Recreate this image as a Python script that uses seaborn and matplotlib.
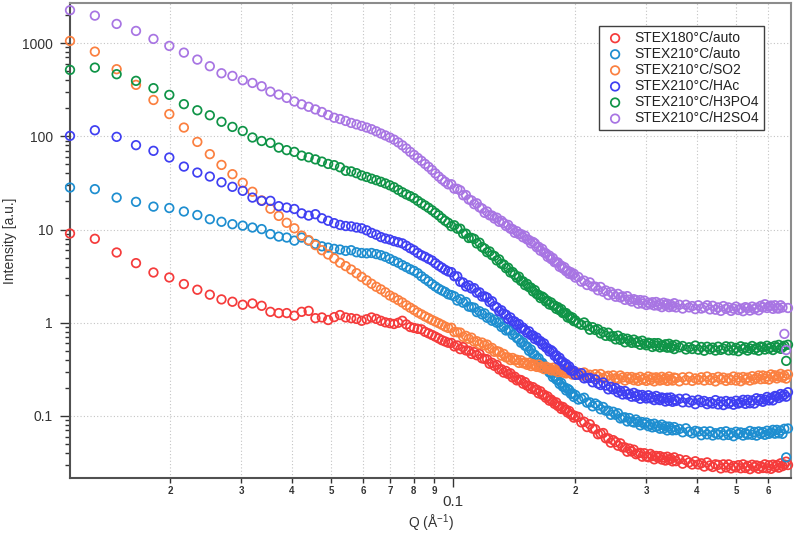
import numpy as np
import seaborn as sns
import matplotlib.pyplot as plt
from matplotlib.ticker import LogLocator, FuncFormatter, NullFormatter

sns.set_style('ticks')
plt.rcParams['font.family'] = ['Liberation Sans', 'DejaVu Sans']
plt.rcParams['mathtext.fontset'] = 'custom'
plt.rcParams['mathtext.rm'] = 'Liberation Sans'
plt.rcParams['mathtext.default'] = 'regular'

# scattering vector Q (1/A), same grid for every sample
q = [0.01133, 0.01305, 0.01477, 0.01649, 0.01821, 0.01993, 0.02165, 0.02337, 0.02509, 0.02681,
     0.02853, 0.03025, 0.03197, 0.03369, 0.03541, 0.03713, 0.03885, 0.04057, 0.04229, 0.04401,
     0.04573, 0.04745, 0.04917, 0.05089, 0.05261, 0.05433, 0.05605, 0.05777, 0.05949, 0.06121,
     0.06293, 0.06465, 0.06637, 0.06809, 0.06981, 0.07153, 0.07325, 0.07497, 0.07669, 0.07841,
     0.08013, 0.08185, 0.08357, 0.08529, 0.08701, 0.08873, 0.09045, 0.09217, 0.09389, 0.09561,
     0.09733,
     0.09905, 0.10077, 0.10249, 0.10421, 0.10593, 0.10765, 0.10937, 0.11109, 0.11281, 0.11453,
     0.11625, 0.11797, 0.11969, 0.12141, 0.12313, 0.12485, 0.12657, 0.12829, 0.13001, 0.13173,
     0.13345, 0.13517, 0.13689, 0.13861, 0.14033, 0.14205, 0.14377, 0.14549, 0.14721, 0.14893,
     0.15065, 0.15237, 0.15409, 0.15581, 0.15753, 0.15925, 0.16097, 0.16269, 0.16441, 0.16613,
     0.16785, 0.16957, 0.17129, 0.17301, 0.17473, 0.17645, 0.17817, 0.17989, 0.18161, 0.18333,
     0.18505, 0.18677, 0.18849, 0.19021, 0.19193, 0.19365, 0.19537, 0.19709, 0.19881, 0.20053,
     0.20397, 0.20741, 0.21085, 0.21429, 0.21773, 0.22117, 0.22461, 0.22805, 0.23149, 0.23493,
     0.23837, 0.24181, 0.24525, 0.24869, 0.25213, 0.25557, 0.25901, 0.26245, 0.26589, 0.26933,
     0.27277, 0.27621, 0.27965, 0.28309, 0.28653, 0.28997, 0.29341, 0.29685, 0.30029, 0.30373,
     0.30717, 0.31061, 0.31405, 0.31749, 0.32093, 0.32437, 0.32781, 0.33125, 0.33469, 0.33813,
     0.34157, 0.34501, 0.34845, 0.35189, 0.35533,
     0.36221, 0.36909, 0.37597, 0.38285, 0.38973, 0.39661, 0.40349, 0.41037, 0.41725, 0.42413,
     0.43101, 0.43789, 0.44477, 0.45165, 0.45853, 0.46541, 0.47229, 0.47917, 0.48605, 0.49293,
     0.49981, 0.50669, 0.51357, 0.52045, 0.52733, 0.53421, 0.54109, 0.54797, 0.55485, 0.56173,
     0.56861, 0.57549, 0.58237, 0.58925, 0.59613, 0.60301, 0.60989, 0.61677, 0.62365, 0.63053,
     0.63741, 0.64429, 0.65117, 0.65805, 0.66493, 0.67181]

i_180_auto = [9.06, 7.95, 5.67, 4.36, 3.46, 3.06, 2.60, 2.26, 2.00, 1.78,
              1.68, 1.56, 1.61, 1.52, 1.31, 1.27, 1.27, 1.19, 1.31, 1.34,
              1.12, 1.14, 1.07, 1.15, 1.21, 1.14, 1.12, 1.10, 1.05, 1.09,
              1.14, 1.10, 1.05, 1.01, 0.99, 0.97, 1.00, 1.05, 0.96, 0.90,
              0.88, 0.86, 0.85, 0.80, 0.77, 0.74, 0.71, 0.68, 0.65, 0.63,
              0.61,
              0.608, 0.558, 0.571, 0.521, 0.548, 0.505, 0.501, 0.463, 0.484, 0.448,
              0.463, 0.415, 0.410, 0.406, 0.363, 0.372, 0.345, 0.353, 0.316, 0.317,
              0.292, 0.304, 0.282, 0.287, 0.259, 0.264, 0.241, 0.245, 0.243, 0.222,
              0.231, 0.212, 0.210, 0.196, 0.204, 0.191, 0.192, 0.175, 0.184, 0.169,
              0.169, 0.157, 0.162, 0.146, 0.150, 0.143, 0.135, 0.140, 0.128, 0.128,
              0.119, 0.125, 0.117, 0.117, 0.109, 0.113, 0.104, 0.103, 0.096, 0.100,
              0.0977, 0.0854, 0.0867, 0.0761, 0.0816, 0.0733, 0.0721, 0.0637, 0.0645, 0.0657,
              0.0577, 0.0576, 0.0517, 0.0551, 0.0525, 0.0480, 0.0509, 0.0461, 0.0460, 0.0414,
              0.0447, 0.0416, 0.0435, 0.0389, 0.0398, 0.0402, 0.0366, 0.0399, 0.0368, 0.0361,
              0.0392, 0.0371, 0.0343, 0.0373, 0.0356, 0.0371, 0.0341, 0.0360, 0.0333, 0.0366,
              0.0340, 0.0348, 0.0326, 0.0360, 0.0328,
              0.0344, 0.0308, 0.0336, 0.0318, 0.0302, 0.0327, 0.0302, 0.0311, 0.0287, 0.0318,
              0.0295, 0.0284, 0.0303, 0.0299, 0.0274, 0.0303, 0.0281, 0.0303, 0.0274, 0.0291,
              0.0281, 0.0297, 0.0275, 0.0303, 0.0277, 0.0292, 0.0269, 0.0300, 0.0283, 0.0295,
              0.0272, 0.0289, 0.0277, 0.0303, 0.0275, 0.0296, 0.0271, 0.0301, 0.0284, 0.0298,
              0.0279, 0.0311, 0.0290, 0.0302, 0.0324, 0.0298]

i_210_auto = [28.2, 27.1, 22.0, 19.8, 17.6, 17.0, 15.6, 14.3, 12.9, 12.1,
              11.4, 11.0, 10.5, 10.1, 8.93, 8.4, 8.2, 7.6, 8.2, 7.6,
              7.0, 6.6, 6.4, 6.2, 6.1, 5.9, 6.0, 5.7, 5.6, 5.55,
              5.6, 5.45, 5.3, 5.1, 4.85, 4.6, 4.4, 4.15, 3.95, 3.75,
              3.6, 3.4, 3.15, 2.95, 2.78, 2.6, 2.45, 2.32, 2.22, 2.14,
              2.02,
              1.98, 1.92, 1.73, 1.79, 1.64, 1.67, 1.49, 1.47, 1.45, 1.30,
              1.33, 1.23, 1.26, 1.13, 1.14, 1.05, 1.08, 1.00, 1.01, 0.90,
              0.91, 0.826, 0.838, 0.824, 0.742, 0.759, 0.686, 0.665, 0.610, 0.618,
              0.566, 0.556, 0.499, 0.515, 0.463, 0.452, 0.414, 0.417, 0.370, 0.372,
              0.347, 0.320, 0.327, 0.293, 0.288, 0.261, 0.268, 0.246, 0.242, 0.220,
              0.227, 0.206, 0.203, 0.188, 0.196, 0.190, 0.173, 0.175, 0.160, 0.168,
              0.150, 0.153, 0.157, 0.139, 0.140, 0.127, 0.136, 0.130, 0.118, 0.125,
              0.114, 0.114, 0.103, 0.111, 0.103, 0.107, 0.0941, 0.0960, 0.0968, 0.0874,
              0.0950, 0.0872, 0.0851, 0.0917, 0.0864, 0.0794, 0.0860, 0.0818, 0.0851, 0.0778,
              0.0818, 0.0755, 0.0827, 0.0765, 0.0783, 0.0730, 0.0808, 0.0733, 0.0773, 0.0700,
              0.0770, 0.0735, 0.0701, 0.0761, 0.0706,
              0.0726, 0.0669, 0.0738, 0.0681, 0.0653, 0.0693, 0.0680, 0.0622, 0.0684, 0.0635,
              0.0685, 0.0618, 0.0654, 0.0634, 0.0672, 0.0620, 0.0685, 0.0627, 0.0659, 0.0607,
              0.0678, 0.0641, 0.0667, 0.0617, 0.0657, 0.0631, 0.0691, 0.0627, 0.0674, 0.0616,
              0.0683, 0.0645, 0.0673, 0.0628, 0.0695, 0.0644, 0.0667, 0.0710, 0.0646, 0.0710,
              0.0652, 0.0696, 0.0644, 0.0729, 0.036, 0.0735]

i_210_so2 = [1053, 809, 524, 356, 245, 173, 124, 87, 64.3, 49.3,
             39.2, 31.7, 25.4, 20.5, 16.7, 14.0, 11.8, 10.3, 8.6, 7.7,
             6.8, 6.0, 5.4, 4.9, 4.4, 4.05, 3.72, 3.40, 3.10, 2.85,
             2.62, 2.43, 2.28, 2.12, 1.96, 1.86, 1.75, 1.65, 1.54, 1.45,
             1.37, 1.29, 1.23, 1.17, 1.12, 1.07, 1.03, 0.99, 0.95, 0.91,
             0.88,
             0.884, 0.795, 0.790, 0.785, 0.706, 0.724, 0.673, 0.692, 0.627, 0.634,
             0.588, 0.613, 0.572, 0.583, 0.527, 0.537, 0.488, 0.496, 0.488, 0.444,
             0.463, 0.425, 0.424, 0.398, 0.419, 0.396, 0.401, 0.371, 0.395, 0.368,
             0.374, 0.354, 0.372, 0.343, 0.360, 0.349, 0.336, 0.356, 0.331, 0.338,
             0.318, 0.338, 0.322, 0.328, 0.309, 0.329, 0.307, 0.311, 0.296, 0.315,
             0.313, 0.293, 0.306, 0.286, 0.308, 0.291, 0.295, 0.278, 0.298, 0.281,
             0.291, 0.271, 0.293, 0.271, 0.277, 0.256, 0.281, 0.265, 0.282, 0.253,
             0.263, 0.270, 0.248, 0.273, 0.254, 0.250, 0.272, 0.259, 0.240, 0.262,
             0.250, 0.262, 0.242, 0.256, 0.238, 0.263, 0.245, 0.253, 0.238, 0.265,
             0.243, 0.258, 0.235, 0.260, 0.250, 0.240, 0.263, 0.245, 0.255, 0.238,
             0.265, 0.248, 0.240, 0.258, 0.255,
             0.235, 0.260, 0.243, 0.263, 0.238, 0.253, 0.245, 0.260, 0.240, 0.265,
             0.243, 0.255, 0.235, 0.263, 0.248, 0.258, 0.238, 0.253, 0.243, 0.265,
             0.240, 0.259, 0.236, 0.262, 0.247, 0.258, 0.240, 0.267, 0.247, 0.256,
             0.272, 0.248, 0.272, 0.250, 0.266, 0.246, 0.279, 0.261, 0.273, 0.253,
             0.266, 0.283, 0.259, 0.271, 0.252, 0.279]

i_210_hac = [101, 116, 98.6, 80.3, 69.8, 59.2, 47.3, 40.8, 37.0, 32.1,
             28.7, 26.0, 22.0, 20.3, 20.3, 17.8, 17.2, 16.6, 14.9, 14.1,
             14.6, 13.2, 12.4, 11.7, 11.2, 10.9, 10.8, 10.5, 10.3, 9.8,
             9.2, 8.8, 8.3, 8.0, 7.8, 7.5, 7.3, 7.1, 6.7, 6.3,
             6.0, 5.6, 5.3, 5.1, 4.85, 4.65, 4.35, 4.1, 3.9, 3.7,
             3.55,
             3.49, 3.16, 3.14, 2.75, 2.70, 2.45, 2.52, 2.33, 2.35, 2.10,
             2.12, 1.91, 1.92, 1.86, 1.67, 1.70, 1.51, 1.46, 1.33, 1.36,
             1.25, 1.22, 1.10, 1.14, 1.04, 1.03, 0.951, 0.968, 0.869, 0.887,
             0.835, 0.781, 0.809, 0.737, 0.732, 0.670, 0.693, 0.642, 0.635, 0.582,
             0.600, 0.544, 0.533, 0.492, 0.508, 0.488, 0.442, 0.447, 0.404, 0.421,
             0.386, 0.380, 0.348, 0.361, 0.331, 0.340, 0.307, 0.306, 0.305, 0.276,
             0.277, 0.288, 0.253, 0.256, 0.256, 0.230, 0.247, 0.223, 0.215, 0.229,
             0.212, 0.193, 0.206, 0.193, 0.199, 0.179, 0.186, 0.170, 0.185, 0.170,
             0.173, 0.161, 0.177, 0.161, 0.169, 0.153, 0.168, 0.161, 0.154, 0.167,
             0.155, 0.160, 0.148, 0.164, 0.152, 0.148, 0.158, 0.155, 0.143, 0.157,
             0.146, 0.158, 0.142, 0.150, 0.145,
             0.153, 0.140, 0.154, 0.140, 0.146, 0.134, 0.149, 0.141, 0.145, 0.134,
             0.141, 0.136, 0.148, 0.133, 0.143, 0.131, 0.145, 0.136, 0.142, 0.132,
             0.146, 0.136, 0.140, 0.149, 0.135, 0.149, 0.137, 0.147, 0.136, 0.155,
             0.146, 0.152, 0.142, 0.150, 0.160, 0.147, 0.156, 0.147, 0.164, 0.163,
             0.156, 0.172, 0.163, 0.170, 0.161, 0.180]

i_210_h3po4 = [515, 545, 463, 393, 328, 278, 221, 190, 168, 143,
               126, 114, 97, 89, 85, 75.6, 71, 68, 62, 59.5,
               56.5, 53.5, 50.5, 49, 46.5, 42.6, 42, 40.2, 38, 36.6,
               35.1, 33.8, 32.5, 31.2, 29.8, 28.4, 26.6, 25.1, 23.8, 22.8,
               21.7, 20.3, 19.1, 18.1, 17.1, 16.1, 15.1, 14.2, 13.2, 12.4,
               11.8,
               10.85, 11.1, 10.2, 10.2, 9.02, 9.03, 8.11, 8.13, 7.93, 7.08,
               7.23, 6.47, 6.25, 5.71, 5.82, 5.30, 5.20, 4.66, 4.78, 4.29,
               4.21, 3.85, 3.89, 3.46, 3.50, 3.27, 3.04, 3.12, 2.81, 2.78,
               2.53, 2.61, 2.41, 2.38, 2.17, 2.24, 2.03, 1.99, 1.84, 1.91,
               1.84, 1.69, 1.72, 1.57, 1.65, 1.53, 1.53, 1.41, 1.47, 1.36,
               1.40, 1.27, 1.27, 1.27, 1.14, 1.18, 1.11, 1.14, 1.04, 1.06,
               0.990, 0.951, 1.007, 0.929, 0.841, 0.896, 0.837, 0.853, 0.768, 0.796,
               0.724, 0.782, 0.713, 0.719, 0.663, 0.727, 0.655, 0.685, 0.617, 0.674,
               0.641, 0.609, 0.659, 0.610, 0.628, 0.580, 0.642, 0.595, 0.573, 0.611,
               0.601, 0.550, 0.605, 0.562, 0.605, 0.544, 0.576, 0.556, 0.588, 0.540,
               0.595, 0.542, 0.568, 0.522, 0.581,
               0.545, 0.563, 0.517, 0.546, 0.523, 0.569, 0.514, 0.550, 0.501, 0.553,
               0.520, 0.541, 0.503, 0.554, 0.512, 0.527, 0.559, 0.506, 0.553, 0.506,
               0.538, 0.495, 0.559, 0.523, 0.544, 0.503, 0.530, 0.563, 0.516, 0.538,
               0.502, 0.556, 0.547, 0.516, 0.567, 0.530, 0.547, 0.510, 0.566, 0.540,
               0.579, 0.525, 0.548, 0.567, 0.39, 0.581]

i_210_h2so4 = [2248, 1967, 1603, 1348, 1107, 931, 789, 664, 564, 474,
               444, 399, 373, 344, 301, 280, 258, 236, 220, 207,
               194, 182, 169, 158, 153, 146, 139, 134, 129, 124,
               119, 113, 107, 102, 97, 92, 86, 80, 74, 68,
               63, 58.5, 54.5, 50.5, 47, 43.5, 40, 37, 34.5, 32.5,
               30.5,
               30.6, 27.4, 27.3, 26.3, 23.3, 23.4, 21.0, 20.5, 18.7, 19.1,
               17.3, 16.8, 15.1, 15.6, 14.2, 14.1, 13.1, 13.4, 12.1, 12.4,
               11.7, 10.9, 11.2, 10.2, 10.1, 9.22, 9.58, 8.91, 8.93, 8.25,
               8.58, 7.84, 7.70, 7.10, 7.36, 7.11, 6.45, 6.53, 5.92, 6.19,
               5.66, 5.56, 5.09, 5.25, 4.82, 4.94, 4.46, 4.45, 4.43, 3.98,
               4.10, 3.82, 3.94, 3.57, 3.62, 3.34, 3.49, 3.27, 3.35, 3.05,
               3.10, 2.76, 2.83, 2.54, 2.71, 2.45, 2.44, 2.23, 2.42, 2.15,
               2.22, 1.98, 2.14, 2.02, 1.90, 2.04, 1.87, 1.92, 1.76, 1.93,
               1.77, 1.69, 1.79, 1.75, 1.60, 1.75, 1.61, 1.73, 1.55, 1.64,
               1.58, 1.66, 1.53, 1.67, 1.53, 1.60, 1.47, 1.64, 1.54, 1.60,
               1.47, 1.56, 1.49, 1.62, 1.46,
               1.56, 1.42, 1.56, 1.46, 1.51, 1.40, 1.54, 1.42, 1.46, 1.54,
               1.39, 1.52, 1.38, 1.46, 1.34, 1.51, 1.41, 1.46, 1.34, 1.415,
               1.49, 1.37, 1.42, 1.33, 1.47, 1.44, 1.35, 1.49, 1.40, 1.45,
               1.36, 1.52, 1.46, 1.58, 1.44, 1.50, 1.53, 1.41, 1.54, 1.43,
               1.42, 1.54, 1.46, 0.76, 0.51, 1.44]

labels = ['STEX180°C/auto', 'STEX210°C/auto', 'STEX210°C/SO2',
          'STEX210°C/HAc', 'STEX210°C/H3PO4', 'STEX210°C/H2SO4']
colors = ['#f53b3b', '#1e8ed0', '#fb8040', '#3f3ff2', '#0f9447', '#a875e3']
series = [i_180_auto, i_210_auto, i_210_so2, i_210_hac, i_210_h3po4, i_210_h2so4]

fig = plt.figure(figsize=(7.96, 5.35), dpi=100)
ax = fig.add_axes([70 / 796, 57 / 535, 721 / 796, 475 / 535])

for vals, lab, col in zip(series, labels, colors):
    sns.scatterplot(x=q, y=vals, ax=ax, marker='o', s=38, color=col,
                    facecolors='none', edgecolor=col, linewidth=1.25,
                    label=lab, clip_on=False, zorder=3)

ax.set_xscale('log')
ax.set_yscale('log')
ax.set_xlim(0.01133, 0.6834)
ax.set_ylim(0.02163, 2687)

# ticks and labels
ax.xaxis.set_major_locator(LogLocator(base=10, numticks=10))
ax.xaxis.set_minor_locator(LogLocator(base=10, subs=np.arange(2, 10), numticks=20))
ax.xaxis.set_major_formatter(FuncFormatter(lambda v, p: f'{v:g}'))
ax.xaxis.set_minor_formatter(FuncFormatter(
    lambda v, p: f'{round(v / 10 ** np.floor(np.log10(v)))}'))
ax.yaxis.set_major_locator(LogLocator(base=10, numticks=10))
ax.yaxis.set_minor_locator(LogLocator(base=10, subs=np.arange(2, 10), numticks=20))
ax.yaxis.set_major_formatter(FuncFormatter(lambda v, p: f'{v:g}'))
ax.yaxis.set_minor_formatter(NullFormatter())

ax.tick_params(axis='x', which='major', direction='out', length=6.5, width=1.0,
               pad=6, labelsize=11, colors='#333333')
ax.tick_params(axis='x', which='minor', direction='out', length=3.6, width=1.0,
               pad=2.5, labelsize=7, colors='#333333')
ax.tick_params(axis='y', which='major', direction='out', length=7.2, width=1.0,
               pad=5, labelsize=10, colors='#333333')
ax.tick_params(axis='y', which='minor', direction='out', length=3.6, width=1.0,
               colors='#333333')
for t in ax.get_xticklabels(minor=True):
    t.set_fontweight('bold')

ax.grid(True, which='major', axis='both', linestyle=(0, (1, 2)), color='#c4c4c4', linewidth=0.8)
ax.grid(True, which='minor', axis='x', linestyle=(0, (1, 2)), color='#c4c4c4', linewidth=0.8)
ax.set_axisbelow(True)

for side in ['left', 'bottom']:
    ax.spines[side].set_color('#505050')
    ax.spines[side].set_linewidth(1.5)
for side in ['top', 'right']:
    ax.spines[side].set_color('#8c8c8c')
    ax.spines[side].set_linewidth(1.5)

ax.set_xlabel('Q (Å$^{-1}$)', fontsize=10, color='#333333')
ax.set_ylabel('Intensity [a.u.]', fontsize=10, color='#333333')
ax.xaxis.set_label_coords(0.5, -0.074)
ax.yaxis.set_label_coords(-0.074, 0.5)

leg = ax.legend(loc='upper right', bbox_to_anchor=(0.9626, 0.9516), fontsize=10,
                frameon=True, fancybox=False, borderaxespad=0, borderpad=0.35,
                labelspacing=0.15, handlelength=1.6, handletextpad=0.6)
leg.get_frame().set_edgecolor('#404040')
leg.get_frame().set_linewidth(1.0)
leg.get_frame().set_alpha(1.0)
for t in leg.get_texts():
    t.set_color('#222222')

fig.savefig('out.png', dpi=100)
